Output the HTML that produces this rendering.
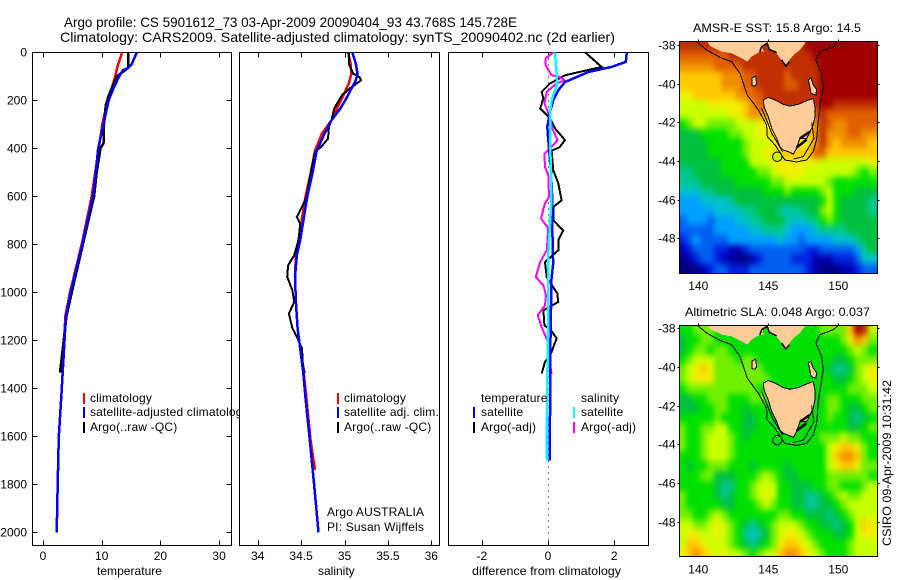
<!DOCTYPE html>
<html lang="en">
<head>
<meta charset="utf-8">
<title>Argo profile chart</title>
<style>
html,body{margin:0;padding:0;background:#fff;}
svg{display:block;}
text{font-family:"Liberation Sans",sans-serif;font-size:12px;fill:#000;}
</style>
</head>
<body>
<svg id="chart" xmlns="http://www.w3.org/2000/svg" width="900" height="580" viewBox="0 0 900 580">
<rect x="0" y="0" width="900" height="580" fill="#fff"/>
<defs>
<clipPath id="clip-sst"><rect x="679.5" y="41.5" width="198" height="231.5"/></clipPath>
<clipPath id="clip-sla"><rect x="679.5" y="325.5" width="198" height="231.5"/></clipPath>
<filter id="map-smooth" filterUnits="userSpaceOnUse" x="640" y="0" width="260" height="580" color-interpolation-filters="sRGB">
<feGaussianBlur stdDeviation="2.6 3.4"/>
</filter>
</defs>
<text x="64" y="27" font-size="14" style="font-size:14px" textLength="453" lengthAdjust="spacingAndGlyphs">Argo profile: CS 5901612_73 03-Apr-2009 20090404_93 43.768S 145.728E</text>
<text x="60" y="42" font-size="14" style="font-size:14px" textLength="555" lengthAdjust="spacingAndGlyphs">Climatology: CARS2009. Satellite-adjusted climatology: synTS_20090402.nc (2d earlier)</text>
<g id="panel1"></g>
<g id="panel2"></g>
<g id="panel3"></g>
<g id="map1"></g>
<g id="map2"></g>
<text x="97" y="575" textLength="65" lengthAdjust="spacingAndGlyphs">temperature</text>
<text x="318" y="575">salinity</text>
<text x="472" y="575" textLength="149" lengthAdjust="spacingAndGlyphs">difference from climatology</text>
<text x="693" y="32" textLength="168" lengthAdjust="spacingAndGlyphs">AMSR-E SST: 15.8 Argo: 14.5</text>
<text x="685" y="316" textLength="185" lengthAdjust="spacingAndGlyphs">Altimetric SLA: 0.048 Argo: 0.037</text>
<text transform="translate(891,546) rotate(-90)" textLength="166" lengthAdjust="spacingAndGlyphs">CSIRO 09-Apr-2009 10:31:42</text>
</svg>
<script>
/* ---------- temperature panel data ---------- */
const tempClimDepth = [0,50,100,150,200,300,400,500,600,800,1000,1100,1400,1600,1740];
const tempClimValues = [13.5,12.8,12.3,11.7,11.0,10.1,9.5,8.9,8.3,6.6,4.6,3.8,3.2,2.7,2.55];
const tempSatDepth = [0,50,65,75,100,150,200,300,400,500,600,800,1000,1100,1400,1600,1800,2000];
const tempSatValues = [16.0,15.1,14.5,13.6,13.0,12.0,11.2,10.3,9.4,9.0,8.5,6.7,4.7,3.9,3.2,2.7,2.5,2.33];
const tempArgoDepth = [0,65,80,100,150,180,220,300,380,400,500,600,800,1000,1100,1335];
const tempArgoValues = [14.5,14.5,13.7,12.6,11.7,11.2,10.7,10.4,10.3,9.8,9.15,8.7,6.8,4.9,4.0,2.9];
/* ---------- salinity panel data ---------- */
const salClimDepth = [0,47,89,130,193,235,283,339,410,505,603,783,846,936,1040,1150,1234,1336,1436,1617,1740];
const salClimValues = [35.04,35.07,35.08,35.05,34.97,34.91,34.85,34.74,34.66,34.61,34.55,34.47,34.44,34.43,34.44,34.46,34.49,34.53,34.56,34.61,34.66];
const salSatDepth = [0,47,89,117,158,193,235,283,339,410,505,603,783,846,936,1040,1150,1234,1336,1436,1617,1800,2000];
const salSatValues = [35.09,35.13,35.15,35.13,35.07,35.02,34.95,34.85,34.77,34.68,34.63,34.57,34.49,34.45,34.43,34.44,34.46,34.49,34.525,34.55,34.6,34.65,34.7];
const salArgoDepth = [0,47,89,103,117,130,151,179,235,283,311,360,394,415,505,603,638,686,714,783,846,888,936,992,1040,1089,1150,1186,1234,1296,1336];
const salArgoValues = [35.05,35.05,35.10,35.17,35.19,35.14,35.06,34.97,34.88,34.85,34.82,34.81,34.73,34.66,34.61,34.56,34.52,34.45,34.49,34.47,34.42,34.35,34.34,34.40,34.42,34.36,34.40,34.45,34.51,34.52,34.54];
/* ---------- difference panel data ---------- */
const diffTempSatDepth = [0,40,61,82,103,124,158,200,249,311,366,492,617,838,874,964,1068,1241,1519,1700];
const diffTempSatValues = [2.38,2.35,1.92,1.22,0.87,0.51,0.31,0.16,0.06,-0.02,0.01,0.09,0.13,0.14,0.16,0.09,0.09,0.07,0.06,0.05];
const diffTempArgoDepth = [0,61,96,130,165,192,234,274,317,366,394,411,492,546,617,644,700,742,783,825,874,936,964,1005,1040,1075,1138,1158,1192,1255,1290,1338];
const diffTempArgoValues = [1.12,1.62,0.51,0.06,-0.19,-0.14,-0.24,0.06,0.21,0.51,0.36,0.11,0.16,0.31,0.41,0.16,0.16,0.46,0.31,0.31,-0.09,-0.04,0.09,0.28,0.31,-0.14,-0.11,0.09,0.26,0.09,-0.09,-0.19];
const diffSalSatDepth = [0,89,130,200,249,366,500,644,838,964,1100,1241,1519,1700];
const diffSalSatValues = [0.21,0.26,0.28,0.11,0.06,0.06,0.09,0.09,0.01,0.01,0.01,-0.01,-0.03,-0.04];
const diffSalArgoDepth = [0,25,54,96,103,117,130,165,213,269,317,366,394,422,478,512,603,629,692,733,825,874,936,971,1012,1054,1096,1145,1186,1227,1298,1340];
const diffSalArgoValues = [0.16,-0.07,-0.07,0.11,0.36,0.51,0.26,-0.04,-0.11,0.06,0.13,0.29,0.11,-0.11,-0.09,0.01,0.03,-0.09,-0.21,0.01,-0.04,-0.24,-0.37,-0.14,-0.06,-0.09,-0.31,-0.19,-0.07,0.06,0.06,0.11];
const zeroLineDepth = [0,2054];
const zeroLineValues = [0,0];
/* ---------- tick labels ---------- */
const depthTicks = [0,200,400,600,800,1000,1200,1400,1600,1800,2000];
const tempTicks = [0,10,20,30];
const salTicks = [34,34.5,35,35.5,36];
const diffTicks = [-2,0,2];
const lonTicks = [140,145,150];
const latTicks = [-38,-40,-42,-44,-46,-48];
/* ---------- map colour levels (28 columns by 24 rows, half degree cells) ---------- */
const sstLevels = [
[15,15,15,15,15,15,15,15,15,15,15,15,15,15,15,15,15,15,16,16,16,16,16,16,16,16,16,16],
[14,14,14,14,14,14,14,15,15,15,15,15,15,15,15,15,15,15,15,16,16,16,16,16,16,16,16,16],
[13,13,13,13,13,14,14,14,14,15,15,15,15,15,15,15,15,15,15,15,16,16,16,16,16,16,16,16],
[12,12,12,12,12,12,13,13,13,14,14,15,15,15,15,14,15,15,15,15,16,16,16,16,16,16,16,16],
[12,12,12,12,12,12,13,13,13,14,14,15,15,15,15,14,14,15,15,15,16,16,16,16,16,16,16,16],
[11,11,12,12,12,12,12,12,13,13,14,14,15,15,15,15,15,15,15,15,16,16,16,16,16,16,16,16],
[10,10,10,10,11,11,11,11,11,12,13,14,14,15,15,15,15,15,15,15,16,16,15,15,15,15,15,15],
[10,10,10,10,10,10,10,11,11,12,13,13,13,13,13,13,13,13,13,14,15,14,14,14,14,14,14,14],
[8,9,10,10,9,9,9,9,10,10,10,11,11,12,12,12,12,12,12,13,15,14,13,13,14,14,14,14],
[7,7,7,8,8,8,8,9,9,10,10,11,11,12,12,12,12,12,12,13,15,13,13,13,14,14,13,13],
[7,7,7,7,8,8,8,8,8,9,10,10,10,11,11,11,11,11,11,13,15,13,12,13,13,13,13,12],
[7,7,7,7,8,8,8,8,8,9,10,10,11,11,12,12,12,12,12,14,14,12,12,12,12,12,12,12],
[7,7,7,7,7,7,8,8,8,8,10,10,10,11,11,11,11,11,11,11,10,10,10,10,10,10,10,11],
[6,6,7,7,7,7,8,8,8,8,8,9,9,10,11,11,11,11,10,10,10,10,10,10,10,9,8,9],
[6,6,6,7,7,7,7,7,8,8,8,8,8,9,9,10,10,10,10,10,10,9,8,8,8,8,8,8],
[5,5,5,6,6,7,7,7,7,7,7,7,8,8,8,9,8,8,8,8,9,10,8,8,8,7,7,7],
[4,4,4,5,5,5,5,6,7,7,7,7,7,7,7,7,7,7,7,7,8,10,8,7,7,7,7,6],
[4,4,4,4,4,5,5,5,5,6,6,7,7,7,6,5,6,6,7,7,9,10,8,7,7,7,7,6],
[3,4,4,4,3,4,4,4,5,5,6,6,7,7,7,6,5,5,6,6,8,9,8,7,7,7,7,7],
[3,3,3,3,3,4,4,4,4,4,5,5,6,6,6,5,4,4,4,5,6,6,6,6,7,7,7,7],
[2,3,4,3,3,3,3,4,4,4,4,4,4,4,5,4,4,3,4,4,4,4,5,5,5,6,7,7],
[1,2,3,3,3,2,2,1,1,2,3,3,3,3,3,3,3,3,2,2,3,3,3,3,3,4,6,7],
[0,1,2,3,3,2,1,1,0,0,1,2,3,3,3,3,2,2,2,1,1,1,2,2,2,3,5,5],
[0,0,0,1,2,3,3,2,2,2,3,3,3,3,3,3,3,3,2,1,0,0,0,1,1,2,3,3]
];
const slaLevels = [
[8,8,9,9,9,8,8,8,8,8,8,8,8,8,8,8,8,8,8,8,9,9,9,9,12,16,15,10],
[7,8,8,9,9,8,8,8,8,8,8,8,8,8,8,8,8,8,8,8,8,8,8,9,11,13,12,9],
[7,8,9,9,8,9,9,8,8,8,8,8,8,8,8,8,8,8,8,8,8,8,8,8,9,10,9,8],
[8,9,10,10,10,9,9,9,8,9,9,8,8,8,8,8,8,8,8,8,8,8,7,7,8,9,9,9],
[9,10,11,12,11,9,9,9,9,9,9,9,8,8,8,8,8,8,8,8,8,7,6,6,7,9,10,11],
[9,10,11,11,11,9,9,9,9,9,9,9,9,8,8,8,8,8,8,8,8,8,7,7,8,9,10,11],
[8,9,9,9,9,9,9,9,9,9,9,8,8,8,8,8,8,8,8,8,8,8,8,8,9,9,9,10],
[7,7,8,8,9,9,9,8,8,8,9,9,9,8,8,8,8,8,8,8,8,9,9,8,8,8,9,9],
[7,7,7,8,8,9,9,8,8,7,8,8,8,8,8,8,8,8,8,8,8,9,9,8,7,7,8,9],
[8,8,8,8,8,9,8,8,8,7,7,8,8,8,8,8,8,8,8,8,8,9,8,8,7,6,7,8],
[9,8,8,9,9,10,10,8,8,7,7,8,8,8,8,8,8,8,8,8,8,8,8,8,7,7,8,9],
[9,8,8,9,10,10,10,9,8,7,8,8,8,8,8,8,8,8,8,8,9,9,9,10,9,9,8,8],
[9,8,8,9,10,10,10,9,8,8,8,8,8,8,8,8,8,8,8,8,8,10,11,12,12,11,9,8],
[8,8,8,9,10,10,10,9,8,8,8,8,8,8,8,8,8,8,8,8,8,10,12,13,13,12,9,8],
[8,7,8,8,9,9,9,8,8,8,7,8,8,8,8,7,8,8,8,8,8,10,11,12,12,11,9,9],
[8,8,8,9,9,7,7,7,8,8,8,9,10,9,8,7,7,8,8,8,8,9,9,9,9,9,9,8],
[8,8,8,8,8,7,6,6,8,8,9,10,10,10,8,8,7,7,7,8,8,9,9,8,8,8,9,10],
[9,8,8,8,8,7,6,7,8,8,9,10,11,10,8,8,7,7,6,6,7,8,9,10,9,9,10,10],
[9,8,8,8,8,8,7,7,8,8,8,9,10,9,8,8,7,7,6,6,7,7,8,9,10,10,10,10],
[9,9,8,8,9,10,9,8,8,8,8,8,8,8,9,9,8,8,7,7,7,6,7,8,9,10,10,10],
[10,10,9,9,10,11,10,9,8,7,6,7,8,9,10,10,10,9,8,8,7,7,6,7,8,10,12,11],
[10,11,11,10,10,11,10,9,8,6,5,6,7,9,10,11,11,10,9,8,8,8,7,7,8,10,11,11],
[10,12,12,11,10,10,10,9,8,7,6,7,8,9,11,12,12,11,10,9,8,8,8,8,9,10,10,10],
[11,12,13,12,11,10,11,10,10,9,8,9,10,10,12,13,13,12,11,10,9,8,8,8,9,10,10,10]
];
/* ---------- coastlines and isobaths, lon / lat ---------- */
const mainlandLon = [140.48,140.83,141.67,142.38,143.1,143.5,143.81,144.4,144.69,144.52,144.98,145.12,145.48,145.95,146.26,146.43,146.79,147.26,147.62,147.74,147.74,140.48];
const mainlandLat = [-37.6,-38.05,-38.34,-38.43,-38.69,-38.86,-38.6,-38.34,-38.34,-38.09,-37.91,-38.22,-38.34,-38.78,-39.09,-38.86,-38.52,-38.26,-37.91,-37.6,-37.6,-37.6];
const tasmaniaLon = [144.64,145.0,145.48,146.07,146.55,147.14,147.74,148.21,148.33,148.33,148.21,147.98,147.74,147.26,147.02,146.79,146.43,146.07,145.83,145.6,145.24,145.0,144.69,144.64];
const tasmaniaLat = [-40.84,-40.71,-40.84,-41.07,-41.16,-41.07,-40.88,-40.76,-41.19,-41.71,-42.14,-42.48,-42.83,-42.83,-43.34,-43.64,-43.52,-43.43,-43.26,-42.83,-42.31,-41.71,-41.19,-40.84];
const kingIslandLon = [143.85,144.1,144.17,144.05,143.85,143.85];
const kingIslandLat = [-39.7,-39.6,-40.0,-40.12,-40.1,-39.7];
const flindersLon = [147.86,148.05,148.2,148.45,148.4,148.05,147.95,147.86];
const flindersLat = [-39.8,-39.72,-40.05,-40.3,-40.59,-40.5,-40.1,-39.8];
const isobathOuterLon = [139.88,140.6,141.55,142.38,142.98,143.5,144.29,144.88,144.93,145.48,146.02,146.19,147.02,147.74,148.21,148.45,148.57,148.69,148.93,148.81,148.4,148.69,149.64,150.05];
const isobathOuterLat = [-37.83,-38.26,-38.64,-38.86,-39.47,-40.59,-41.36,-42.14,-42.74,-43.17,-43.78,-43.95,-44.05,-43.95,-43.52,-42.91,-41.88,-41.19,-40.16,-39.47,-38.78,-38.34,-38.09,-37.83];
const isobathWestLon = [144.52,144.88,145.24,145.6,146.02];
const isobathWestLat = [-41.28,-41.88,-42.57,-43.0,-43.52];
const isobathEastLon = [148.1,148.26,147.86,147.5,146.79];
const isobathEastLat = [-42.0,-42.83,-43.34,-43.78,-43.9];
const reefALon = [147.26,147.98];
const reefALat = [-42.83,-42.48];
const reefBLon = [147.02,147.74];
const reefBLat = [-43.3,-42.9];
const bayLon = [144.4,144.52,144.93,145.07,145.6];
const bayLat = [-38.34,-38.09,-37.91,-38.22,-38.4];
const promontoryLon = [145.95,146.26,146.5];
const promontoryLat = [-38.78,-39.09,-38.86];
const profileLon = [145.64];
const profileLat = [-43.78];
const sstProfileLevel = [10];
const slaProfileLevel = [8];
const levelColours = ['#00007f','#0000b0','#0020e0','#0060f0','#00a0ff','#00c0d0','#00c890','#00c040','#00e000','#70f000','#c8ff00','#f0f000','#ffc800','#f09000','#e06000','#c03000','#a00000'];

const NS = 'http://www.w3.org/2000/svg';
function make(tag, parent) { const e = document.createElementNS(NS, tag); parent.appendChild(e); return e; }
/* axis functions */
const depthY = d => 52.3 + 0.24 * d;
const tempX = t => 43 + 5.87 * t;
const salX = s => 257.7 + 86.8 * (s - 34);
const diffX = v => 548 + 33.1 * v;
const lonX = lon => 698.3 + 14 * (lon - 140);
const latY1 = lat => 45 + 19.33 * (-38 - lat);
const latY2 = lat => 328 + 19.4 * (-38 - lat);

function profile(parent, xs, ys, xf, colour, width) {
  const p = make('polyline', parent);
  p.setAttribute('points', xs.map((v, i) => xf(v).toFixed(1) + ',' + depthY(ys[i]).toFixed(1)).join(' '));
  p.setAttribute('fill', 'none');
  p.setAttribute('stroke', colour);
  p.setAttribute('stroke-width', width);
  p.setAttribute('shape-rendering', 'crispEdges');
  return p;
}
function rect(parent, x, y, w, h, fill, stroke) {
  const r = make('rect', parent);
  r.setAttribute('x', x); r.setAttribute('y', y); r.setAttribute('width', w); r.setAttribute('height', h);
  r.setAttribute('fill', fill);
  if (stroke) { r.setAttribute('stroke', stroke); r.setAttribute('stroke-width', 1); }
  return r;
}
function seg(parent, x1, y1, x2, y2) {
  const l = make('line', parent);
  l.setAttribute('x1', x1); l.setAttribute('y1', y1); l.setAttribute('x2', x2); l.setAttribute('y2', y2);
  l.setAttribute('stroke', '#000'); l.setAttribute('stroke-width', 1);
  l.setAttribute('shape-rendering', 'crispEdges');
  return l;
}
function label(parent, x, y, str, anchor) {
  const t = make('text', parent);
  t.setAttribute('x', x); t.setAttribute('y', y);
  if (anchor) t.setAttribute('text-anchor', anchor);
  t.textContent = str;
  return t;
}
function legendLabel(parent, x, y, str) {
  const t = label(parent, x, y, str);
  t.setAttribute('letter-spacing', '0.18');
  return t;
}
function legendMark(parent, x, y, colour) { return rect(parent, x, y - 5, 2, 11, colour); }

/* ===== panel frames ===== */
const P1 = {l:32.5, r:231.5}, P2 = {l:239.5, r:439.5}, P3 = {l:448.5, r:648.5}, TOP = 52.5, BOT = 545.5;
function frameAndXTicks(g, P, ticks, xf, fmt) {
  const bg = rect(g, P.l, TOP, P.r - P.l, BOT - TOP, '#fff', '#000');
  
  
  ticks.forEach(v => {
    const x = Math.round(xf(v)) + 0.5;
    const a = seg(g, x, TOP, x, TOP + 5);
    
    
    const b = seg(g, x, BOT, x, BOT - 5);
    
    
    const t = label(g, xf(v), 560, fmt(v), 'middle');
    
    
  });
}

/* ----- panel 1 ----- */
const g1 = document.getElementById('panel1');
frameAndXTicks(g1, P1, tempTicks, tempX, v => String(v));
depthTicks.forEach(d => {
  const y = Math.round(depthY(d)) + 0.5;
  const a = seg(g1, P1.l, y, P1.l + 5, y);
  
  
  const b = seg(g1, P1.r, y, P1.r - 5, y);
  
  
  const t = label(g1, 27, y + 4, String(d), 'end');
  
  
});
const t1 = profile(g1, tempClimValues, tempClimDepth, tempX, '#f00', 2.5);


const t2 = profile(g1, tempArgoValues, tempArgoDepth, tempX, '#000', 2.5);


const t3 = profile(g1, tempSatValues, tempSatDepth, tempX, '#00f', 2.5);


const m11 = legendMark(g1, 83, 398, '#f00');


const m12 = legendMark(g1, 83, 412, '#00f');


const m13 = legendMark(g1, 83, 427, '#000');


const l11 = legendLabel(g1, 90, 402, 'climatology');


const l12 = legendLabel(g1, 90, 416, 'satellite-adjusted climatology');


const l13 = legendLabel(g1, 90, 431, 'Argo(..raw -QC)');



/* ----- panel 2 (painted after panel 1 so it covers the overflowing legend) ----- */
const g2 = document.getElementById('panel2');
frameAndXTicks(g2, P2, salTicks, salX, v => String(v));
const s1 = profile(g2, salClimValues, salClimDepth, salX, '#f00', 2.5);


const s2 = profile(g2, salArgoValues, salArgoDepth, salX, '#000', 2);


const s3 = profile(g2, salSatValues, salSatDepth, salX, '#00f', 2.5);


const m21 = legendMark(g2, 337, 398, '#f00');


const m22 = legendMark(g2, 337, 412, '#00f');


const m23 = legendMark(g2, 337, 427, '#000');


const l21 = legendLabel(g2, 344, 402, 'climatology');


const l22 = legendLabel(g2, 344, 416, 'satellite adj. clim.');


const l23 = legendLabel(g2, 344, 431, 'Argo(..raw -QC)');


const n1 = legendLabel(g2, 327, 516, 'Argo AUSTRALIA');


const n2 = legendLabel(g2, 327, 531, 'PI: Susan Wijffels');



/* ----- panel 3 ----- */
const g3 = document.getElementById('panel3');
frameAndXTicks(g3, P3, diffTicks, diffX, v => String(v));
const z0 = profile(g3, zeroLineValues, zeroLineDepth, diffX, '#000', 1);
z0.setAttribute('stroke-dasharray', '1 5');
z0.setAttribute('transform', 'translate(0.5,0)');


const d1 = profile(g3, diffTempArgoValues, diffTempArgoDepth, diffX, '#000', 2);


const d2 = profile(g3, diffSalArgoValues, diffSalArgoDepth, diffX, '#f0f', 2);


const d3 = profile(g3, diffTempSatValues, diffTempSatDepth, diffX, '#00f', 2.5);


const d4 = profile(g3, diffSalSatValues, diffSalSatDepth, diffX, '#0ff', 2.5);


const l30 = legendLabel(g3, 481, 402, 'temperature');


const l31 = legendLabel(g3, 481, 416, 'satellite');


const l32 = legendLabel(g3, 481, 431, 'Argo(-adj)');


const l33 = legendLabel(g3, 581, 402, 'salinity');


const l34 = legendLabel(g3, 581, 416, 'satellite');


const l35 = legendLabel(g3, 581, 431, 'Argo(-adj)');


const m31 = legendMark(g3, 473, 412, '#00f');


const m32 = legendMark(g3, 473, 427, '#000');


const m33 = legendMark(g3, 573, 412, '#0ff');


const m34 = legendMark(g3, 573, 427, '#f0f');



/* ===== maps ===== */
function poly(parent, lons, lats, latY, fill, stroke, width, closed) {
  const p = make(closed ? 'polygon' : 'polyline', parent);
  p.setAttribute('points', lons.map((v, i) => lonX(v).toFixed(1) + ',' + latY(lats[i]).toFixed(1)).join(' '));
  p.setAttribute('fill', fill);
  p.setAttribute('stroke', stroke);
  p.setAttribute('stroke-width', width);
  p.setAttribute('shape-rendering', 'crispEdges');
  return p;
}
function drawMap(g, levels, latY, clipId, top, bottom, latTop, profileLevel, labelY) {
  const inner = make('g', g);
  inner.setAttribute('clip-path', 'url(#' + clipId + ')');
  
  
  const cells = make('g', inner);
  cells.setAttribute('filter', 'url(#map-smooth)');
  
  
  const nRows = levels.length;
  levels.forEach((row, j) => {
    const nCols = row.length;
    row.forEach((lvl, i) => {
      const lon0 = 138.64 + i * 0.5, lon1 = lon0 + 0.5;
      const lat0 = latTop - j * 0.5, lat1 = lat0 - 0.5;
      /* outermost cells run past the frame so the smoothing does not fade at the clip edge */
      const x0 = Math.round(lonX(lon0)) - (i === 0 ? 14 : 0);
      const x1 = Math.round(lonX(lon1)) + (i === nCols - 1 ? 14 : 0);
      const y0 = Math.round(latY(lat0)) - (j === 0 ? 14 : 0);
      const y1 = Math.round(latY(lat1)) + (j === nRows - 1 ? 14 : 0);
      const c = rect(cells, x0, y0, x1 - x0, y1 - y0, levelColours[lvl]);
      c.setAttribute('shape-rendering', 'crispEdges');
      
      
    });
  });
  const main = poly(inner, mainlandLon, mainlandLat, latY, '#ffcc99', 'none', 0, true);
  
  
  const tas = poly(inner, tasmaniaLon, tasmaniaLat, latY, '#ffcc99', '#000', 1, true);
  
  
  const kin = poly(inner, kingIslandLon, kingIslandLat, latY, '#ffcc99', '#000', 1, true);
  
  
  const fli = poly(inner, flindersLon, flindersLat, latY, '#ffcc99', '#000', 1, true);
  
  
  const iso = poly(inner, isobathOuterLon, isobathOuterLat, latY, 'none', '#000', 1, false);
  
  
  const isoW = poly(inner, isobathWestLon, isobathWestLat, latY, 'none', '#000', 1, false);
  
  
  const isoE = poly(inner, isobathEastLon, isobathEastLat, latY, 'none', '#000', 1, false);
  
  
  const rA = poly(inner, reefALon, reefALat, latY, 'none', '#000', 2.5, false);
  
  
  const rB = poly(inner, reefBLon, reefBLat, latY, 'none', '#000', 2.5, false);
  
  
  const bay = poly(inner, bayLon, bayLat, latY, 'none', '#000', 1.5, false);
  
  
  const prom = poly(inner, promontoryLon, promontoryLat, latY, 'none', '#000', 1.5, false);
  
  
  const pc = make('circle', inner);
  pc.setAttribute('cx', lonX(profileLon[0]));
  pc.setAttribute('cy', latY(profileLat[0]));
  pc.setAttribute('r', 4.7);
  pc.setAttribute('fill', levelColours[profileLevel[0]]);
  pc.setAttribute('stroke', '#000');
  
  
  const f = rect(g, 679.5, top, 198, bottom - top, 'none', '#000');
  
  
  lonTicks.forEach(v => {
    const x = Math.round(lonX(v)) + 0.5;
    const a = seg(g, x, top, x, top - 2);
    
    
    const t = label(g, lonX(v), labelY, String(v), 'middle');
    
    
  });
  latTicks.forEach(v => {
    const y = Math.round(latY(v)) + 0.5;
    const a = seg(g, 679.5, y, 677.5, y);
    
    
    const b = seg(g, 877.5, y, 879.5, y);
    
    
    const t = label(g, 675.5, y + 4, String(v), 'end');
    
    
  });
}
drawMap(document.getElementById('map1'), sstLevels, latY1, 'clip-sst', 41.5, 273.5, -37.83, sstProfileLevel, 290);
drawMap(document.getElementById('map2'), slaLevels, latY2, 'clip-sla', 325.5, 556.5, -37.88, slaProfileLevel, 573.5);
</script>
</body>
</html>
